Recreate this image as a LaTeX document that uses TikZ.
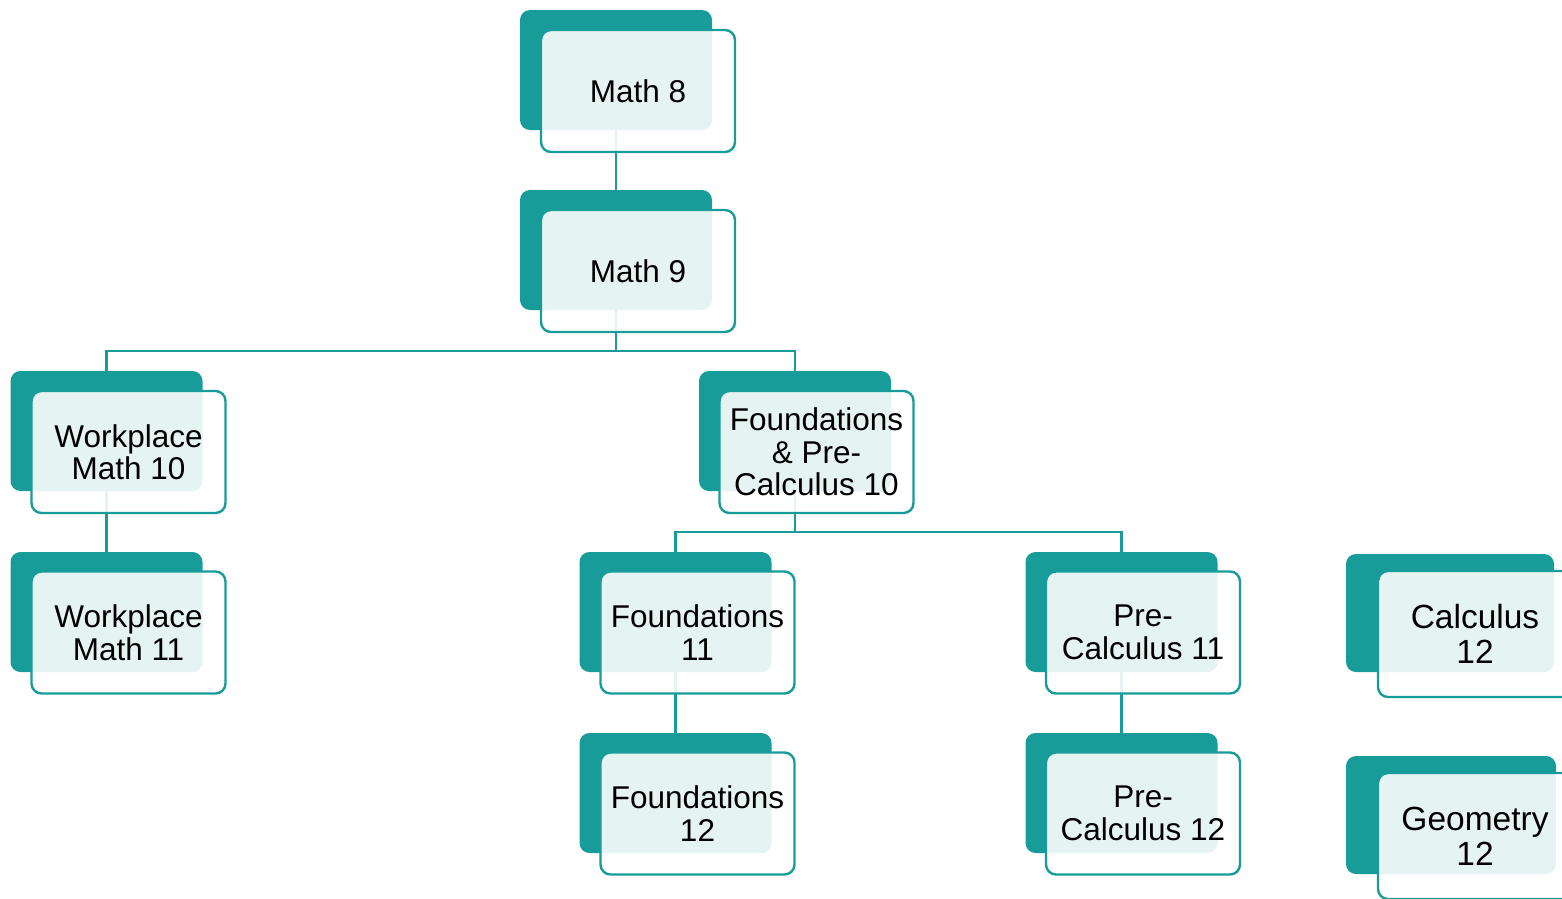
\documentclass[tikz,border=0pt]{standalone}
\usepackage{fontspec}
\setmainfont{Liberation Sans}
\definecolor{tealc}{HTML}{179C9A}
\begin{document}
\begin{tikzpicture}[x=1pt,y=-1pt,
 back/.style={fill=tealc, rounded corners=10pt, minimum width=192pt, minimum height=120pt, inner sep=0pt},
 front/.style={draw=tealc, line width=2.4pt, fill=white, fill opacity=0.89, text opacity=1, rounded corners=10pt, minimum width=194pt, minimum height=122pt, inner sep=0pt, align=center, font=\fontsize{31.5}{32.5}\selectfont},
 bigfront/.style={front, minimum height=126pt, font=\fontsize{33.5}{35}\selectfont},
 link/.style={draw=tealc, line width=2.4pt}]
\useasboundingbox (0,0) rectangle (1562,898);
% back boxes
\node[back] (m8b) at (616,70) {};
\node[back] (m9b) at (616,250) {};
\node[back] (w10b) at (106.5,431) {};
\node[back] (f10b) at (795,431) {};
\node[back] (w11b) at (106.5,612) {};
\node[back] (f11b) at (675.5,612) {};
\node[back] (p11b) at (1121.5,612) {};
\node[back] (f12b) at (675.5,793) {};
\node[back] (p12b) at (1121.5,793) {};
\node[back, minimum width=208pt, minimum height=118pt] (c12b) at (1450,613) {};
\node[back, minimum width=210pt, minimum height=118pt] (g12b) at (1451,815) {};
% connectors
\coordinate (j1) at (616,351);
\coordinate (j2) at (795,532);
\draw[link] (m8b.south) -- (m9b.north);
\draw[link] (m9b.south) -- (j1);
\draw[link] (w10b.north) |- (j1) -| (f10b.north);
\draw[link] (w10b.south) -- (w11b.north);
\draw[link] (f10b.south) -- (j2);
\draw[link] (f11b.north) |- (j2) -| (p11b.north);
\draw[link] (f11b.south) -- (f12b.north);
\draw[link] (p11b.south) -- (p12b.north);
% front boxes
\node[front] (m8) at (638,91) {Math 8};
\node[front] (m9) at (638,271) {Math 9};
\node[front] (w10) at (128.5,452) {Workplace\\Math 10};
\node[front] (f10) at (816.5,452) {Foundations\\\& Pre-\\Calculus 10};
\node[front] (w11) at (128.5,632.5) {Workplace\\Math 11};
\node[front] (f11) at (697.5,632.5) {Foundations\\11};
\node[front] (p11) at (1143,632.5) {Pre-\\Calculus 11};
\node[front] (f12) at (697.5,813.5) {Foundations\\12};
\node[front] (p12) at (1143,813.5) {Pre-\\Calculus 12};
\node[bigfront] (c12) at (1475,634) {Calculus\\12};
\node[bigfront] (g12) at (1475,836) {Geometry\\12};
\end{tikzpicture}
\end{document}
